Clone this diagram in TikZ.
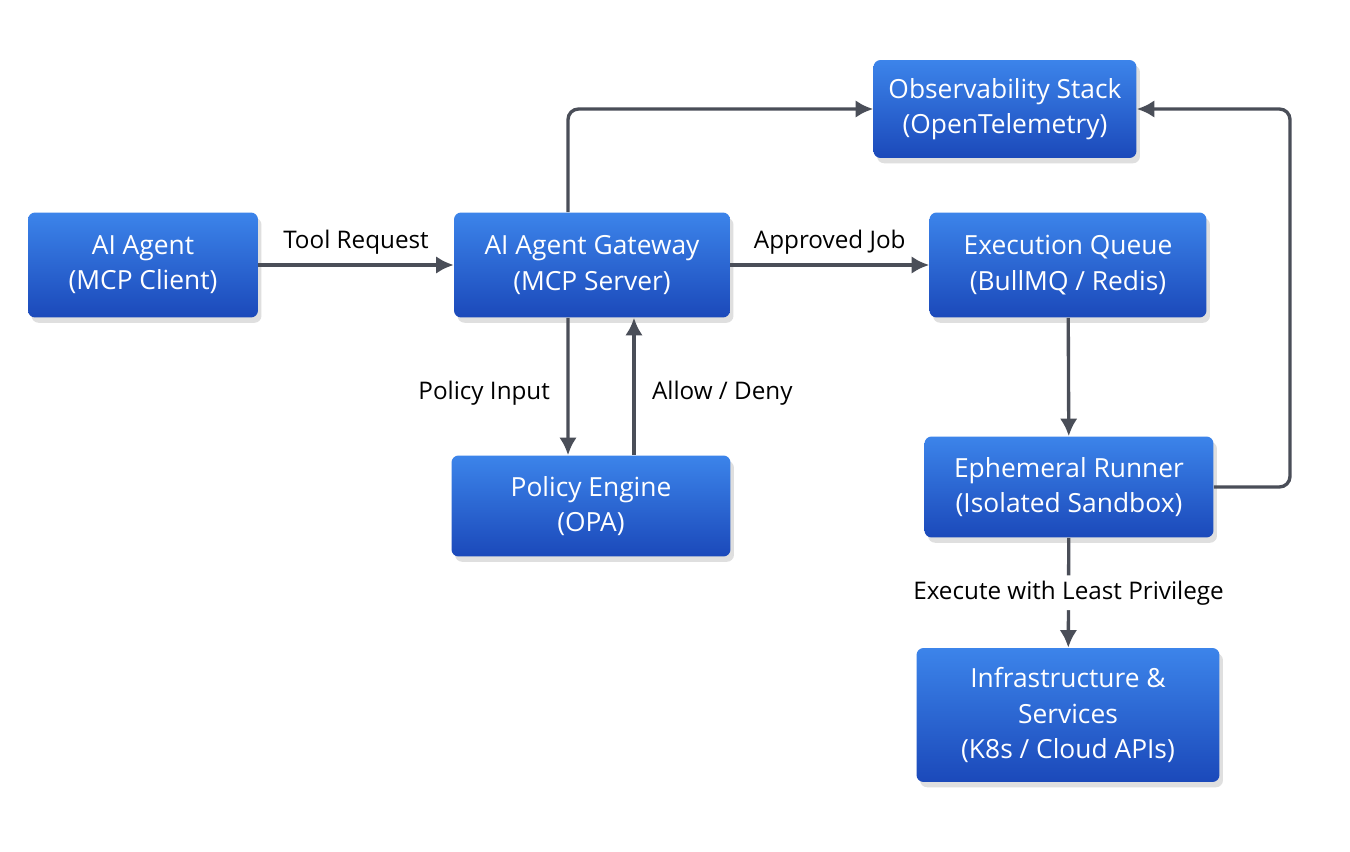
\documentclass[tikz,border=0pt]{standalone}
\usepackage{fontspec}
\setmainfont{Open Sans}
\usetikzlibrary{positioning,shadows,arrows.meta}
\definecolor{boxtop}{HTML}{3C84EA}
\definecolor{boxbot}{HTML}{1B49BA}
\definecolor{arr}{HTML}{4A4E58}
\tikzset{
  blk/.style={rectangle,rounded corners=4pt,top color=boxtop,bottom color=boxbot,
    text=white,align=center,font=\fontsize{15}{20}\selectfont,
    drop shadow={opacity=0.25,shadow xshift=2pt,shadow yshift=-3pt},
    inner sep=0pt},
  flow/.style={draw=arr,line width=1.9pt,-{Latex[length=10pt,width=10pt]},rounded corners=6pt},
  lbl/.style={font=\fontsize{13.8}{16}\selectfont,text=black}
}
\begin{document}
\begin{tikzpicture}[x=0.02cm,y=-0.02cm]
\useasboundingbox[fill=white] (0,0) rectangle (1350,852);
% boxes
\node[blk,minimum width=4.6cm,minimum height=2.1cm] (agent) at (143,265) {AI Agent\\(MCP Client)};
\node[blk,minimum width=5.52cm,minimum height=2.1cm] (gw) at (592,265) {AI Agent Gateway\\(MCP Server)};
\node[blk,minimum width=5.26cm,minimum height=1.96cm] (obs) at (1005,109) {Observability Stack\\(OpenTelemetry)};
\node[blk,minimum width=5.54cm,minimum height=2.1cm] (queue) at (1068,265) {Execution Queue\\(BullMQ / Redis)};
\node[blk,minimum width=5.58cm,minimum height=2.02cm] (policy) at (591,506) {Policy Engine\\(OPA)};
\node[blk,minimum width=5.78cm,minimum height=2.02cm] (runner) at (1069,487) {Ephemeral Runner\\(Isolated Sandbox)};
\node[blk,minimum width=6.06cm,minimum height=2.68cm] (infra) at (1068,715) {Infrastructure \&\\Services\\(K8s / Cloud APIs)};
% connectors
\draw[flow] (agent) -- node[lbl,above=2pt] {Tool Request} (gw);
\draw[flow] (gw) -- node[lbl,above=2pt] {Approved Job} (queue);
\draw[flow] ([xshift=-0.48cm]gw.north) |- (obs.west);
\draw[flow] ([xshift=-0.48cm]gw.south) -- node[lbl,left=6pt,pos=0.55] {Policy Input} ([xshift=-0.46cm]policy.north);
\draw[flow] ([xshift=0.86cm]policy.north) -- node[lbl,right=6pt,pos=0.45] {Allow / Deny} ([xshift=0.84cm]gw.south);
\draw[flow] (queue) -- (runner);
\coordinate (bend) at (1290,487);
\draw[flow] (runner.east) -- (bend) |- (obs.east);
\draw[flow] (runner) -- node[lbl,fill=white,inner sep=3pt] {Execute with Least Privilege} (infra);
\end{tikzpicture}
\end{document}
